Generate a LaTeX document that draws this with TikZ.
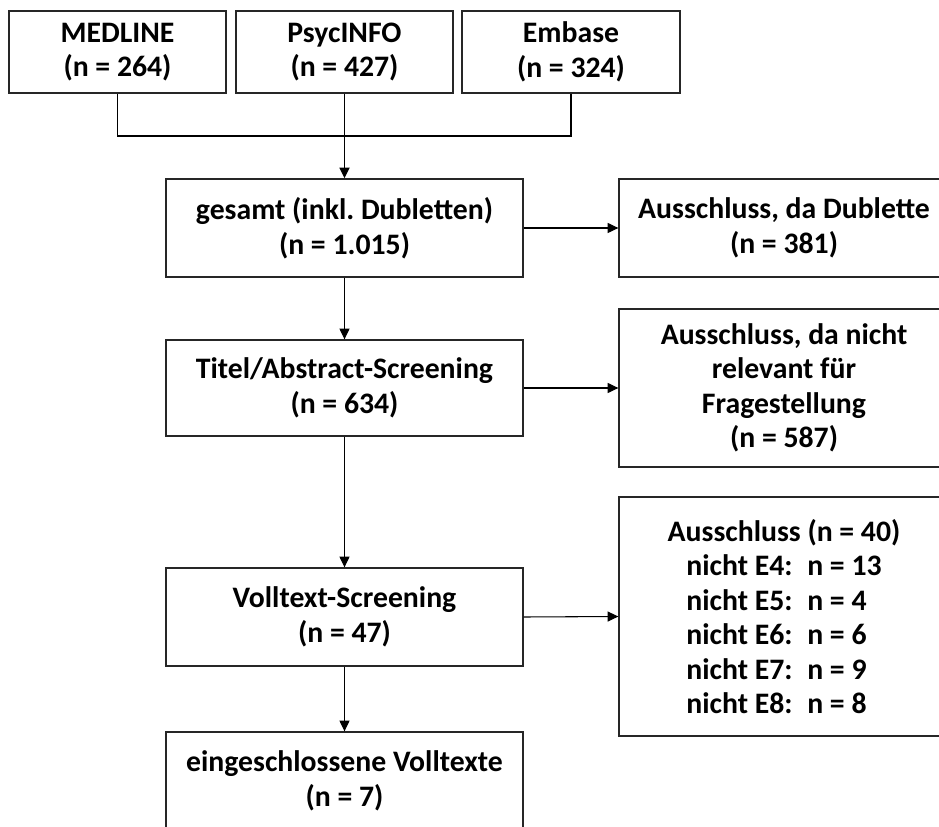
\documentclass[tikz,border=0pt]{standalone}
\usepackage{fontspec}
\setmainfont{Carlito}
\usetikzlibrary{arrows.meta}
\newlength\exclw
\newcommand\exl[1]{\makebox[\exclw][l]{#1}}
\begin{document}
\begin{tikzpicture}[x=0.75pt,y=-0.75pt,
  box/.style={draw=black!85,line width=1pt,align=center,inner sep=0pt,
    font=\fontsize{22.3}{25.9}\selectfont\bfseries\frenchspacing},
  conn/.style={line width=0.8pt,draw=black},
  arr/.style={conn,-{Triangle[width=7.5pt,length=8pt]}}]
\useasboundingbox (0,0) rectangle (939,827);
\clip (0,0) rectangle (939,827);
\fill[white] (0,0) rectangle (939,827);
% top sources
\node[box,minimum width=217*0.75pt,minimum height=82*0.75pt] (med) at (117.5,52) {MEDLINE\\(n = 264)};
\node[box,minimum width=217*0.75pt,minimum height=82*0.75pt] (psy) at (344.5,52) {PsycINFO\\(n = 427)};
\node[box,minimum width=218*0.75pt,minimum height=82*0.75pt] (emb) at (571,52) {Embase\\(n = 324)};
% main column
\node[box,minimum width=357*0.75pt,minimum height=98*0.75pt] (ges) at (344.5,228) {gesamt (inkl. Dubletten)\\(n = 1.015)};
\node[box,minimum width=357*0.75pt,minimum height=96*0.75pt] (tit) at (344.5,388) {Titel/Abstract-Screening\\(n = 634)};
\node[box,minimum width=357*0.75pt,minimum height=98*0.75pt] (vol) at (344.5,617) {Volltext-Screening\\(n = 47)};
\node[box,minimum width=357*0.75pt,minimum height=98*0.75pt] (ein) at (344.5,781) {eingeschlossene Volltexte\\(n = 7)};
% exclusion column
\node[box,minimum width=330*0.75pt,minimum height=98*0.75pt] (dub) at (784,228) {Ausschluss, da Dublette\\(n = 381)};
\node[box,minimum width=330*0.75pt,minimum height=158*0.75pt] (rel) at (784,388) {Ausschluss, da nicht\\relevant für\\Fragestellung\\(n = 587)};
\node[box,minimum width=330*0.75pt,minimum height=239*0.75pt] (aus) at (784,616.5) {\settowidth{\exclw}{nicht E4:\hspace{11pt}n = 13}\global\exclw=\exclw Ausschluss (n = 40)\\
  \exl{nicht E4:\hspace{11pt}n = 13}\\
  \exl{nicht E5:\hspace{11pt}n = 4}\\
  \exl{nicht E6:\hspace{11pt}n = 6}\\
  \exl{nicht E7:\hspace{11pt}n = 9}\\
  \exl{nicht E8:\hspace{11pt}n = 8}};
% connectors
\coordinate (j) at (344.5,136);
\draw[conn] (med.south) |- (j) -| (emb.south);
\draw[conn] (psy.south) -- (j);
\draw[arr,line width=1.3pt] (j) -- (ges.north);
\draw[arr] (ges.south) -- (tit.north);
\draw[arr] (tit.south) -- (vol.north);
\draw[arr] (vol.south) -- (ein.north);
\draw[arr] (ges.east) -- (dub.west);
\draw[arr] (tit.east) -- (rel.west);
\draw[arr] (vol.east) -- (aus.west);
\end{tikzpicture}
\end{document}
